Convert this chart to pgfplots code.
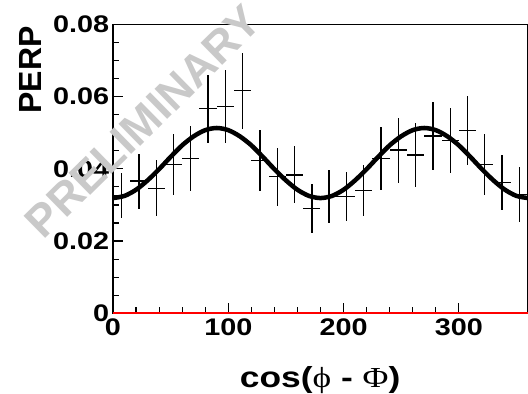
\documentclass[border=0pt]{standalone}
\usepackage{pgfplots}
\pgfplotsset{compat=1.18}
\usepackage{fontspec}
\setmainfont{Liberation Sans}
\newfontfamily\symfont{Liberation Serif}
\pgfplotstableread{
x y ey
7.5 0.0327 0.0062
22.5 0.0366 0.0076
37.5 0.0346 0.0078
52.5 0.0412 0.0085
67.5 0.0429 0.0090
82.5 0.0566 0.0095
97.5 0.0572 0.0101
112.5 0.0616 0.0105
127.5 0.0423 0.0085
142.5 0.0378 0.0080
157.5 0.0383 0.0079
172.5 0.0291 0.0068
187.5 0.0323 0.0074
202.5 0.0323 0.0068
217.5 0.0340 0.0071
232.5 0.0429 0.0087
247.5 0.0452 0.0090
262.5 0.0438 0.0089
277.5 0.0491 0.0095
292.5 0.0478 0.0090
307.5 0.0506 0.0096
322.5 0.0411 0.0084
337.5 0.0362 0.0077
352.5 0.0328 0.0076
}\datatable
\pgfplotstableread{
x y
0 0.0319
10 0.0325
20 0.0342
30 0.0368
40 0.0399
50 0.0433
60 0.0465
70 0.0490
80 0.0507
90 0.0513
100 0.0507
110 0.0490
120 0.0465
130 0.0433
140 0.0399
150 0.0368
160 0.0342
170 0.0325
180 0.0319
190 0.0325
200 0.0342
210 0.0368
220 0.0399
230 0.0433
240 0.0465
250 0.0490
260 0.0507
270 0.0513
280 0.0507
290 0.0490
300 0.0465
310 0.0433
320 0.0399
330 0.0368
340 0.0342
350 0.0325
360 0.0319
}\fittable
\begin{document}
\begin{tikzpicture}
\useasboundingbox (-113bp,-80.7bp) rectangle (415bp,313.3bp);
\begin{axis}[
  at={(0,0)}, anchor=south west,
  scale only axis, width=415bp, height=289bp,
  xmin=0, xmax=360, ymin=0, ymax=0.08,
  clip=false,
  axis line style={black, line width=1.2bp},
  xtick={0,100,200,300}, minor x tick num=4,
  ytick={0,0.02,0.04,0.06,0.08}, minor y tick num=3,
  scaled y ticks=false,
  tick pos=left, tick align=inside,
  major tick length=10bp, minor tick length=6bp,
  every tick/.style={black, line width=1.2bp},
  /pgf/number format/assume math mode=true,
  yticklabel={\pgfmathprintnumber[fixed, precision=2]{\tick}},
  tick label style={font=\bfseries\fontsize{24bp}{24bp}\selectfont, xscale=1.2},
  yticklabel style={inner sep=1bp, xshift=-2bp},
  xticklabel style={inner sep=1bp, yshift=-4bp},
  xlabel={\bfseries cos({\symfont\mdseries ϕ} - {\symfont\mdseries Φ})},
  xlabel style={font=\fontsize{29bp}{29bp}\selectfont, xscale=1.22, at={(axis description cs:0.499,-0.231)}, anchor=center},
  ylabel={\bfseries PERP},
  ylabel style={font=\fontsize{32bp}{32bp}\selectfont, at={(axis description cs:-0.199,0.842)}, anchor=center},
]
\node[rotate=44.5, text=black!21, font=\bfseries\fontsize{45bp}{45bp}\selectfont] at (axis cs:26,0.053) {PRELIMINARY};
\addplot[red, line width=2bp] coordinates {(0,0) (360,0)};
\addplot[red!70, line width=0.8bp] coordinates {(360,0) (360,0.08)};
\addplot[draw=none, mark=none,
  error bars/.cd, x dir=both, x fixed=7.5, y dir=both, y explicit,
  error mark=none, error bar style={draw=black, solid, line width=1.3bp}]
  table[x=x, y=y, y error=ey] {\datatable};
\addplot[black, line width=4.5bp, smooth] table[x=x, y=y] {\fittable};
\end{axis}
\end{tikzpicture}
\end{document}
